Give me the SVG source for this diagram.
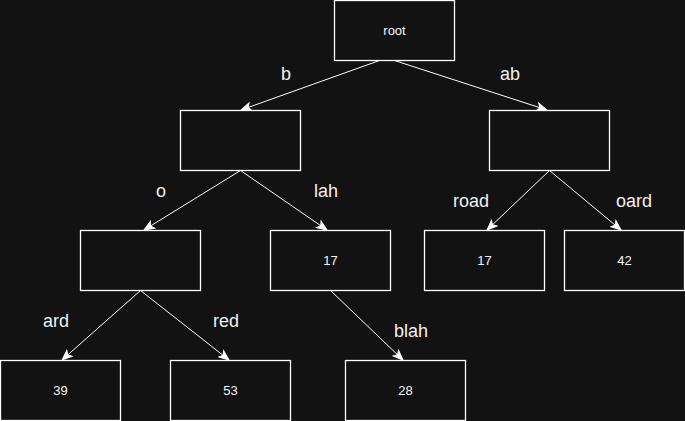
<svg xmlns="http://www.w3.org/2000/svg" width="685" height="421" viewBox="0 0 685 421">
<defs>
<marker id="arr" markerUnits="userSpaceOnUse" markerWidth="12" markerHeight="10" viewBox="0 0 12 10" refX="11" refY="5" orient="auto">
<path d="M1,1 L11,5 L1,9 L3.5,5 Z" fill="#ffffff" stroke="#ffffff" stroke-width="1"/>
</marker>
</defs>
<style>
.box{fill:#121212;stroke:#ffffff;stroke-width:1.3}
.nt{font-family:"Liberation Sans",Arial,sans-serif;font-size:13px;fill:#f4f4f4;text-anchor:middle}
.lb{font-family:"Liberation Sans",Arial,sans-serif;font-size:18px;fill:#f0f0f0;text-anchor:middle}
.e{stroke:#ffffff;stroke-width:1;fill:none;marker-end:url(#arr)}
</style>
<rect width="685" height="421" fill="#121212"/>
<g id="connectors">
<line class="e" x1="379.5" y1="60.5" x2="241" y2="110"/>
<line class="e" x1="394.5" y1="60.5" x2="547" y2="110"/>
<line class="e" x1="240.5" y1="170.5" x2="144" y2="230"/>
<line class="e" x1="240.5" y1="170.5" x2="327" y2="230"/>
<line class="e" x1="549.5" y1="170.5" x2="487" y2="230"/>
<line class="e" x1="549.5" y1="170.5" x2="621" y2="230"/>
<line class="e" x1="140.5" y1="290.5" x2="62" y2="360"/>
<line class="e" x1="140.5" y1="290.5" x2="229" y2="360"/>
<line class="e" x1="330.5" y1="290.5" x2="403" y2="360"/>
<text class="lb" x="286" y="80">b</text>
<text class="lb" x="510" y="80">ab</text>
<text class="lb" x="161" y="197">o</text>
<text class="lb" x="326" y="197">lah</text>
<text class="lb" x="471" y="207">road</text>
<text class="lb" x="634" y="207">oard</text>
<text class="lb" x="56" y="327">ard</text>
<text class="lb" x="226" y="327">red</text>
<text class="lb" x="411" y="337">blah</text>
</g>
<g id="root"><rect class="box" x="334.5" y="0.5" width="120" height="60"/><text class="nt" x="394.5" y="35">root</text></g>
<g id="n_b"><rect class="box" x="180.5" y="110.5" width="120" height="60"/></g>
<g id="n_ab"><rect class="box" x="489.5" y="110.5" width="120" height="60"/></g>
<g id="n_bo"><rect class="box" x="80.5" y="230.5" width="120" height="60"/></g>
<g id="n_blah"><rect class="box" x="270.5" y="230.5" width="120" height="60"/><text class="nt" x="330.5" y="265">17</text></g>
<g id="n_abroad"><rect class="box" x="424.5" y="230.5" width="120" height="60"/><text class="nt" x="484.5" y="265">17</text></g>
<g id="n_aboard"><rect class="box" x="564.5" y="230.5" width="120" height="60"/><text class="nt" x="624.5" y="265">42</text></g>
<g id="n_board"><rect class="box" x="0.5" y="360.5" width="120" height="60"/><text class="nt" x="60.5" y="395">39</text></g>
<g id="n_bored"><rect class="box" x="170.5" y="360.5" width="120" height="60"/><text class="nt" x="230.5" y="395">53</text></g>
<g id="n_blahblah"><rect class="box" x="345.5" y="360.5" width="120" height="60"/><text class="nt" x="405.5" y="395">28</text></g>
</svg>
